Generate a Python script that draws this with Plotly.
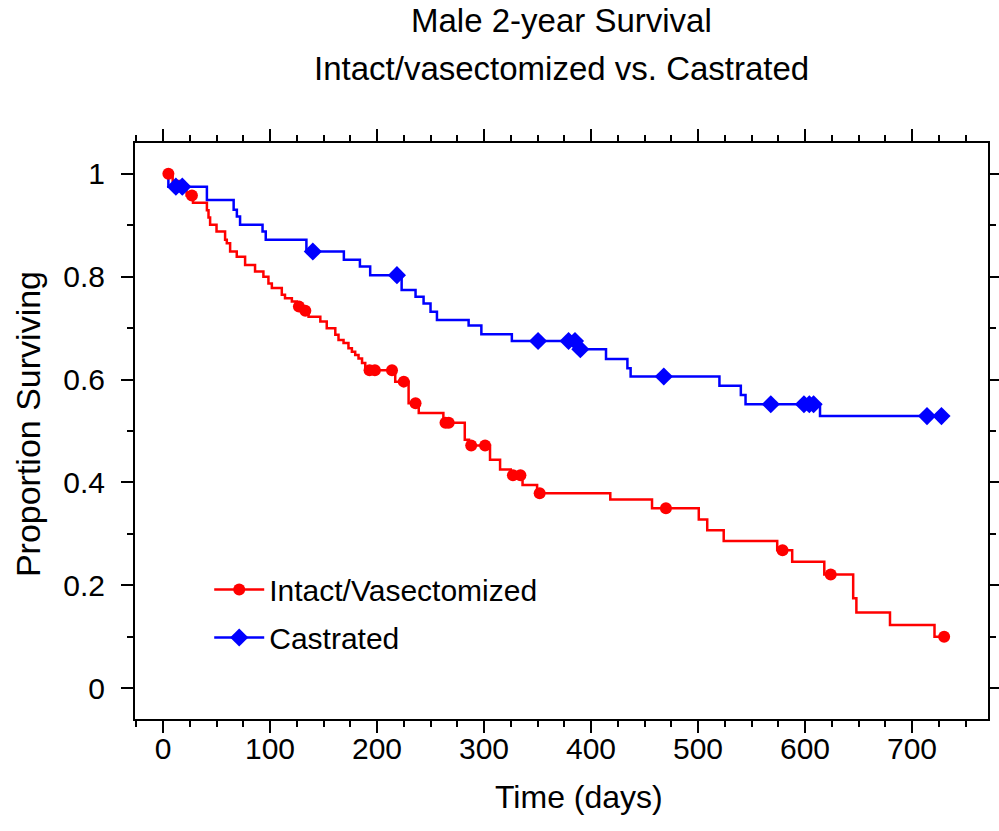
import plotly.graph_objects as go

# ---- data (days, proportion surviving) ----
red_t = [0, 9, 15, 22, 28, 41, 42.5, 44, 50, 58, 59.6, 62.7, 68.9, 76.7, 86, 93.8, 98.5, 101.7, 111, 114,
         120.4, 125, 130, 136, 147, 153, 161, 164, 168.7, 173.3, 176.5, 179.6, 182.7, 186, 189, 217, 229.5,
         239, 262, 282, 286, 305.6, 315, 325, 336, 349.6, 418, 457, 500.7, 508.6, 524, 574, 588, 618, 645,
         648, 679.4, 721, 730]
red_s = [1.0, 0.986, 0.972, 0.958, 0.944, 0.929, 0.915, 0.901, 0.888, 0.872, 0.865, 0.849, 0.839, 0.823,
         0.810, 0.800, 0.787, 0.778, 0.765, 0.758, 0.752, 0.742, 0.734, 0.722, 0.713, 0.700, 0.687, 0.677,
         0.671, 0.661, 0.654, 0.648, 0.641, 0.632, 0.618, 0.596, 0.554, 0.535, 0.516, 0.483, 0.472, 0.444,
         0.425, 0.414, 0.395, 0.379, 0.367, 0.350, 0.328, 0.307, 0.286, 0.268, 0.246, 0.221, 0.175, 0.147,
         0.123, 0.100, 0.100]
red_cens_t = [5, 27, 127, 133, 193, 198, 214, 225, 236, 264, 267, 288, 301, 327, 334, 352, 470, 579, 624, 730]
red_cens_s = [1.0, 0.958, 0.742, 0.734, 0.618, 0.618, 0.618, 0.596, 0.554, 0.516, 0.516, 0.472, 0.472,
              0.414, 0.414, 0.379, 0.350, 0.268, 0.221, 0.100]

blue_t = [0, 5, 41, 66, 69, 72, 93, 96, 134, 169, 184, 193.6, 223, 236, 243.5, 250, 256, 285.6, 297.5, 326,
          388.5, 414, 434, 437, 520, 540, 544.4, 614, 730]
blue_s = [1.0, 0.975, 0.949, 0.930, 0.917, 0.901, 0.888, 0.872, 0.849, 0.833, 0.820, 0.803, 0.774, 0.761,
          0.748, 0.732, 0.716, 0.705, 0.688, 0.675, 0.659, 0.640, 0.622, 0.606, 0.588, 0.570, 0.552, 0.529,
          0.529]
blue_cens_t = [12, 18, 140, 218.6, 350.5, 379, 385, 390, 468, 568, 599, 604, 608, 714, 727.5]
blue_cens_s = [0.975, 0.975, 0.849, 0.803, 0.675, 0.675, 0.675, 0.659, 0.606, 0.552, 0.552, 0.552, 0.552,
               0.529, 0.529]

series_names = ["Intact/Vasectomized", "Castrated"]
x_ticks = [0, 100, 200, 300, 400, 500, 600, 700]
y_ticks = [0, 0.2, 0.4, 0.6, 0.8, 1]

RED = "#ff0000"
BLUE = "#0000ff"
FONT = "Liberation Sans, Arial, sans-serif"

fig = go.Figure()

# step curves
fig.add_trace(go.Scatter(x=red_t, y=red_s, mode="lines", line=dict(color=RED, width=2.5, shape="hv"),
                         showlegend=False, hoverinfo="skip"))
fig.add_trace(go.Scatter(x=blue_t, y=blue_s, mode="lines", line=dict(color=BLUE, width=2.5, shape="hv"),
                         showlegend=False, hoverinfo="skip"))
# censor markers
fig.add_trace(go.Scatter(x=red_cens_t, y=red_cens_s, mode="markers",
                         marker=dict(symbol="circle", size=12, color=RED), showlegend=False))
fig.add_trace(go.Scatter(x=blue_cens_t, y=blue_cens_s, mode="markers",
                         marker=dict(symbol="diamond", size=14, color=BLUE), showlegend=False))
# legend entries
fig.add_trace(go.Scatter(x=[None], y=[None], mode="lines+markers", name=series_names[0], legendgroup="a",
                         line=dict(color=RED, width=2.5), marker=dict(symbol="circle", size=12, color=RED)))
fig.add_trace(go.Scatter(x=[None], y=[None], mode="lines+markers", name=series_names[1], legendgroup="b",
                         line=dict(color=BLUE, width=2.5), marker=dict(symbol="diamond", size=14, color=BLUE)))

axis_common = dict(showline=True, linewidth=2, linecolor="black", mirror="allticks", ticks="outside",
                   ticklen=12, tickwidth=2, tickcolor="black", showgrid=False, zeroline=False,
                   automargin=False, tickfont=dict(family=FONT, size=30, color="black"))

fig.update_layout(
    width=999, height=831, autosize=False,
    margin=dict(l=135, r=11, t=143, b=112),
    paper_bgcolor="white", plot_bgcolor="white",
    font=dict(family=FONT, color="black"),
    xaxis=dict(range=[-26.2, 771], tickvals=x_ticks, ticklabelstandoff=-10,
               minor=dict(dtick=25, tick0=0, ticks="outside", ticklen=6, tickwidth=2, tickcolor="black"),
               **axis_common),
    yaxis=dict(range=[-0.060, 1.060], tickvals=y_ticks, ticklabelstandoff=10,
               minor=dict(dtick=0.1, tick0=0, ticks="outside", ticklen=6, tickwidth=2, tickcolor="black"),
               **axis_common),
    legend=dict(x=0.087, y=0.27, xanchor="left", yanchor="top", bgcolor="rgba(0,0,0,0)",
                font=dict(family=FONT, size=30, color="black"), traceorder="grouped", tracegroupgap=6,
                itemwidth=50),
    annotations=[
        dict(text="Male 2-year Survival", xref="paper", yref="paper", x=0.5, y=1.2135,
             xanchor="center", yanchor="middle", showarrow=False, font=dict(family=FONT, size=33)),
        dict(text="Intact/vasectomized vs. Castrated", xref="paper", yref="paper", x=0.5, y=1.130,
             xanchor="center", yanchor="middle", showarrow=False, font=dict(family=FONT, size=33)),
        dict(text="Time (days)", xref="paper", yref="paper", x=0.52, y=-0.1354,
             xanchor="center", yanchor="middle", showarrow=False, font=dict(family=FONT, size=32)),
        dict(text="Proportion Surviving", xref="paper", yref="paper", x=-0.1254, y=0.512, textangle=-90,
             xanchor="center", yanchor="middle", showarrow=False, font=dict(family=FONT, size=34)),
    ],
)

fig.write_html(
    "out.html",
    config={"responsive": False, "displayModeBar": False},
    default_width="999px",
    default_height="831px",
    post_script="document.body.style.margin='0';document.body.style.padding='0';"
                "document.body.style.overflow='hidden';document.documentElement.style.overflow='hidden';",
)
